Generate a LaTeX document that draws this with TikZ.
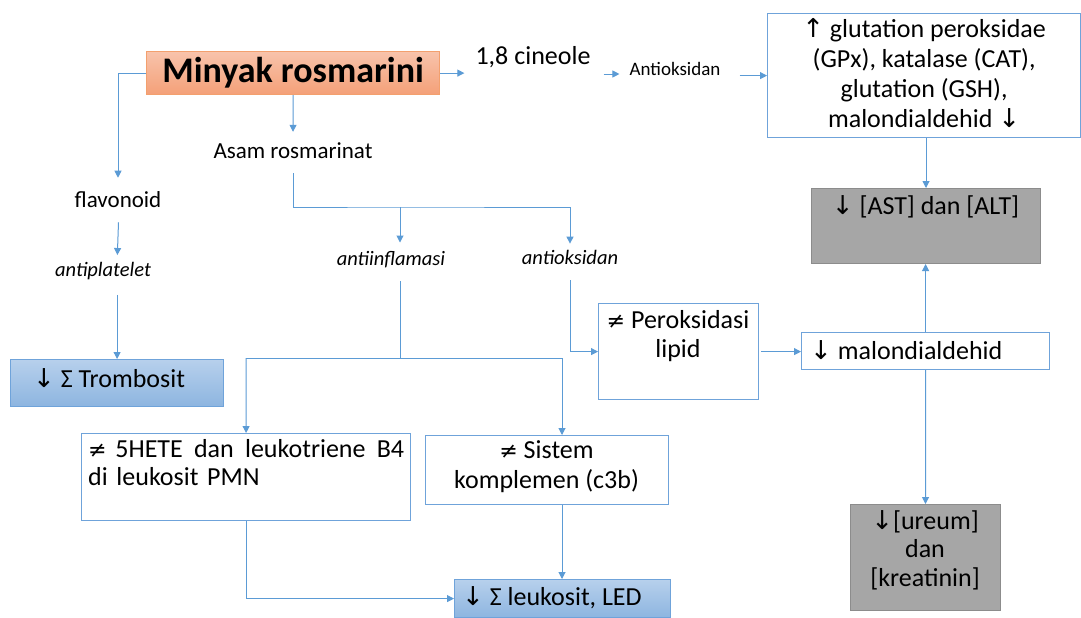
\documentclass[tikz,border=0pt]{standalone}
\usepackage{fontspec}
\setmainfont{Carlito}
\newfontfamily\symf[Scale=0.85]{DejaVu Sans}
\newfontfamily\arrf[Scale=1.0]{DejaVu Sans}
\usetikzlibrary{arrows.meta,calc}
\newcommand{\dnarr}{{\arrf ↓}}
\newcommand{\uparr}{{\arrf ↑}}
\newcommand{\neqs}{{\symf ≠}}
\definecolor{lineblue}{HTML}{5B9BD5}
\definecolor{boxblue}{HTML}{6FA3DA}
\definecolor{bluetop}{HTML}{B7D0EC}
\definecolor{bluebot}{HTML}{8DB5E0}
\definecolor{orgtop}{HTML}{F8C3AB}
\definecolor{orgbot}{HTML}{F4A078}
\definecolor{orgline}{HTML}{F3A06E}
\definecolor{grayfill}{HTML}{A6A6A6}
\definecolor{grayline}{HTML}{8C8C8C}
\begin{document}
\begin{tikzpicture}[x=1pt,y=-1pt,
  conn/.style={draw=lineblue, line width=1pt},
  arr/.style={conn, -{Triangle[length=7pt,width=7pt]}},
  boxbase/.style={rectangle, inner sep=0pt, anchor=north west},
  wbox/.style={boxbase, draw=boxblue, line width=1.2pt, fill=white},
  gbox/.style={boxbase, draw=grayline, line width=1pt, fill=grayfill},
  bbox/.style={boxbase, draw=boxblue, line width=1.2pt, top color=bluetop, bottom color=bluebot},
  obox/.style={boxbase, draw=orgline, line width=1.2pt, top color=orgtop, bottom color=orgbot},
  txt/.style={inner sep=0pt, font=\fontsize{26}{30}\selectfont, align=center},
  lbl/.style={inner sep=0pt, font=\fontsize{23}{28}\selectfont},
  itl/.style={inner sep=0pt, font=\fontsize{20.5}{24}\selectfont\itshape},
]
\useasboundingbox[fill=white] (0,0) rectangle (1081,618);

% boxes
\node[obox, minimum width=293pt, minimum height=43pt] (minyak) at (146,51) {};
\node[inner sep=0pt, font=\fontsize{36}{40}\selectfont\bfseries] (minyakt) at (minyak.center) {Minyak rosmarini};
\node[wbox, minimum width=313pt, minimum height=124pt] (gpx) at (767,13) {};
\node[txt] (gpxt) at ([yshift=3pt]gpx.center) {\uparr{} glutation peroksidae\\(GPx), katalase (CAT),\\glutation (GSH),\\malondialdehid \dnarr};
\node[gbox, minimum width=229pt, minimum height=75pt] (ast) at (811,188) {};
\node[txt] (astt) at (925.5,207) {\dnarr{} [AST] dan [ALT]};
\node[wbox, minimum width=248pt, minimum height=37pt] (malon) at (801,332) {};
\node[txt, anchor=west] (malont) at (810,350) {\dnarr{} malondialdehid};
\node[gbox, minimum width=150pt, minimum height=106pt] (ureum) at (850,504) {};
\node[txt, font=\fontsize{26}{28.5}\selectfont] (ureumt) at (925,550) {\dnarr[ureum]\\dan\\{}[kreatinin]};
\node[wbox, minimum width=160pt, minimum height=96pt] (perok) at (598,303) {};
\node[txt, font=\fontsize{26}{28.5}\selectfont] (perokt) at (678,336) {\neqs{} Peroksidasi\\lipid};
\node[bbox, minimum width=213pt, minimum height=47pt] (tromb) at (10,359) {};
\node[txt, anchor=west] (trombt) at (33,378) {\dnarr{} Σ Trombosit};
\node[wbox, minimum width=329pt, minimum height=87pt] (h5) at (81,433) {};
\node[txt, align=left, anchor=north west, text width=316pt, font=\fontsize{26}{28.5}\selectfont] (h5t) at (88,439) {\neqs{} 5HETE\hfill dan\hfill leukotriene\hfill B4\\di leukosit PMN};
\node[wbox, minimum width=243pt, minimum height=69pt] (sis) at (425,435) {};
\node[txt] (sist) at (546.5,467) {\neqs{} Sistem\\komplemen (c3b)};
\node[bbox, minimum width=216pt, minimum height=38pt] (leuk) at (454,579) {};
\node[txt, anchor=west] (leukt) at (462,598) {\dnarr{} Σ leukosit, LED};

% text labels
\node[txt] (cineole) at (533,57) {1,8 cineole};
\node[inner sep=0pt, font=\fontsize{19}{22}\selectfont] (antiok1) at (675,69) {Antioksidan};
\node[lbl] (asam) at (293,151) {Asam rosmarinat};
\node[lbl] (flav) at (118,200) {flavonoid};
\node[itl] (antiplat) at (103,271) {antiplatelet};
\node[itl] (antiinf) at (391,260) {antiinflamasi};
\node[itl] (antiok2) at (570,257) {antioksidan};

% junctions
\coordinate (jA) at (400,207);
\coordinate (jB) at (400,358);
\coordinate (jC) at (562,358);
\coordinate (jD) at (246,358);

% connectors
\draw[arr, shorten >=11pt] (minyak.east) -- (minyak.east -| cineole.west);
\draw[arr, shorten <=13pt, shorten >=10pt] ([yshift=-5pt]antiok1.west -| cineole.east) -- ([yshift=-5pt]antiok1.west);
\draw[arr, shorten <=19pt] (gpx.west -| antiok1.east) -- (gpx.west);
\draw[arr] (ast.north |- gpx.south) -- (ast.north);
\draw[arr] (malon.north) -- (malon.north |- ast.south);
\draw[arr] (malon.south) -- (ureum.north);
\draw[arr, shorten <=2pt] (perok.east) -- (perok.east -| malon.west);
\draw[arr, shorten <=16pt] (antiok2.south) |- (perok.west);
\draw[arr, shorten >=11pt] (minyak.south) -- (asam.north);
\draw[arr, shorten <=14pt, shorten >=6pt] (asam.south) |- (jA) -| (antiok2.north);
\draw[arr, shorten >=9pt] (jA) -- (jA |- antiinf.north);
\draw[conn, shorten <=13pt] (jA |- antiinf.south) -- (jB);
\draw[conn] (jD) -- (jC);
\draw[arr] (jD) -- (h5.north);
\draw[arr] (jC) -- (jC |- sis.north);
\draw[arr] (h5.south) |- (leuk.west);
\draw[arr] (jC |- sis.south) -- (jC |- leuk.north);
\draw[arr, shorten >=14pt] (minyak.west) -| (flav.north);
\draw[arr, shorten <=14pt, shorten >=7pt] ([xshift=1pt]flav.south) -- (antiplat.north -| tromb.north);
\draw[arr, shorten <=15pt] (tromb.north |- antiplat.south) -- (tromb.north);
\end{tikzpicture}
\end{document}
